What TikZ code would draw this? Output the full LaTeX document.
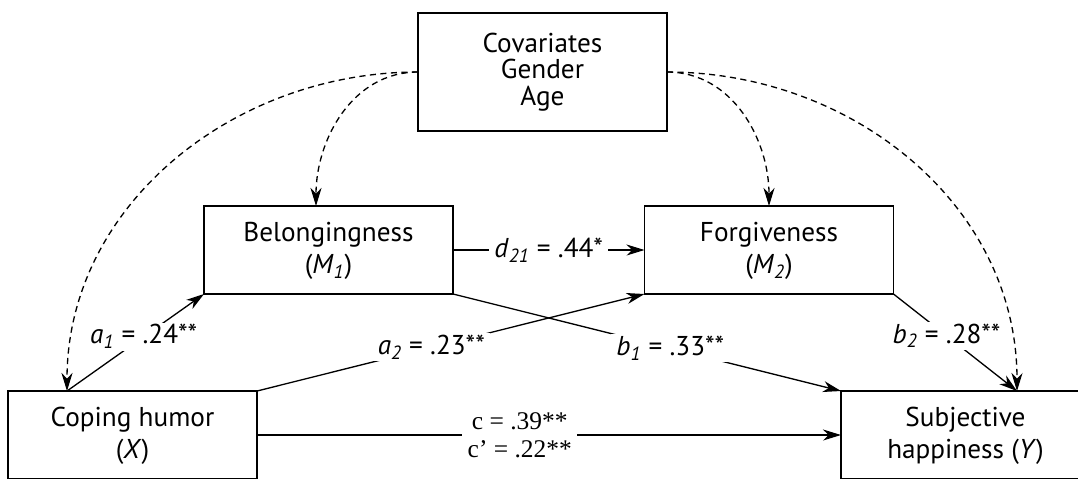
\documentclass[tikz,border=0pt]{standalone}
\usepackage{fontspec}
\setmainfont{PT Sans}
\newfontfamily\coefserif{Liberation Serif}
\usetikzlibrary{arrows.meta,calc}
\tikzset{
    >={Stealth[length=3.6mm,width=2.2mm,inset=1.1mm]},
    every picture/.style={font=\fontsize{15.5pt}{18pt}\selectfont},
    varbox/.style={draw, line width=0.8pt, align=center, inner sep=0pt, outer sep=0pt, minimum width=4.98cm, minimum height=1.76cm},
    covbox/.style={varbox, minimum height=2.36cm},
    effect/.style={->, line width=0.75pt},
    covarrow/.style={->, line width=0.75pt, dash pattern=on 3.5pt off 2.5pt},
    coef/.style={fill=white, inner xsep=3pt, inner ysep=1pt}
}
\newcommand{\ivar}[2]{\textit{#1}\textsubscript{\textit{#2}}}

\begin{document}
\begin{tikzpicture}[x=0.02cm, y=-0.02cm]
\useasboundingbox (0,0) rectangle (1078,478);
\clip (0,0) rectangle (1078,478);
% variables
\node[covbox] (cov) at (542.5,72) {Covariates\\[-3pt]Gender\\[-3pt]Age};
\node[varbox] (mone) at (328.5,250) {\\[-6pt]Belongingness\\(\ivar{M}{1})};
\node[varbox] (mtwo) at (769,250) {\\[-6pt]Forgiveness\\(\ivar{M}{2})};
\node[varbox] (cope) at (132.5,435) {\\[-6pt]Coping humor\\(\textit{X})};
\node[varbox] (happy) at (965.5,435) {\\[-6pt]Subjective\\happiness (\textit{Y})};
\coordinate (xin) at ($(cope.north)+(-65.5,0)$);
\coordinate (yin) at ($(happy.north)+(51.5,0)$);
\coordinate (monein) at ($(mone.north)+(-12.5,0)$);
% paths
\draw[effect] (xin) -- node[coef, pos=0.56] {\ivar{a}{1} = .24**} (mone.south west);
\draw[effect] (cope.north east) -- node[coef, pos=0.45] {\ivar{a}{2} = .23**} (mtwo.south west);
\draw[effect] (mone.east) -- node[coef] {\ivar{d}{21} = .44*} (mtwo.west);
\draw[effect] (mone.south east) -- node[coef, pos=0.56] {\ivar{b}{1} = .33**} (happy.north west);
\draw[effect] (mtwo.south east) -- node[coef, pos=0.43] {\ivar{b}{2} = .28**} (yin);
\draw[effect] (cope.east) -- node[coef, pos=0.45, align=center, font=\coefserif\fontsize{14.5pt}{16pt}\selectfont] {c = .39**\\c’ = .22**} (happy.west);
% covariates
\draw[covarrow] (cov.west) to[out=180, in=90] (xin);
\draw[covarrow] (cov.west) to[out=180, in=90] (monein);
\draw[covarrow] (cov.east) to[out=0, in=90] (mtwo.north);
\draw[covarrow] (cov.east) to[out=0, in=90] (yin);
\end{tikzpicture}
\end{document}
